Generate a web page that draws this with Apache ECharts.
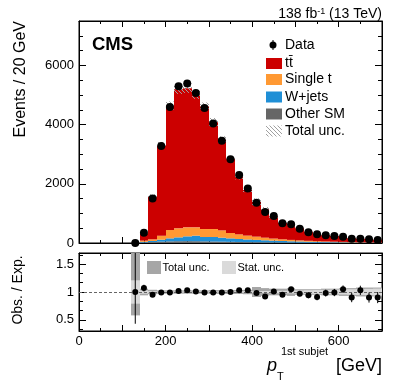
<!DOCTYPE html>
<html>
<head>
<meta charset="utf-8">
<script src="https://cdn.jsdelivr.net/npm/echarts@6/dist/echarts.min.js"></script>
<style>
html, body { margin: 0; padding: 0; background: #fff; }
#chart { width: 407px; height: 383px; }
</style>
</head>
<body>
<div id="chart"></div>
<script>
// 20 GeV bins, lower edges
const binLo = [120, 140, 160, 180, 200, 220, 240, 260, 280, 300, 320, 340, 360, 380, 400,
  420, 440, 460, 480, 500, 520, 540, 560, 580, 600, 620, 640, 660, 680];
const binW = 20;

const dataCounts = [0, 347, 1507, 3281, 4597, 5296, 5386, 5070, 4564, 4040, 3451, 2833, 2294, 1844, 1360,
  1046, 911, 664, 630, 483, 360, 292, 258, 236, 214, 146, 146, 124, 101];
const ttbar = [2, 244, 1461, 3068, 4205, 4697, 4701, 4492, 4138, 3609, 3059, 2496, 1935, 1540, 1173,
  957, 752, 574, 495, 410, 309, 259, 211, 194, 167, 131, 116, 116, 93];
const singleTop = [1, 40, 58, 134, 281, 304, 303, 281, 270, 270, 247, 180, 157, 130, 110,
  88, 70, 57, 47, 38, 32, 26, 21, 17, 14, 12, 10, 8, 7];
const wJets = [1, 25, 37, 67, 102, 131, 163, 187, 147, 152, 135, 117, 100, 90, 79,
  70, 61, 52, 44, 38, 32, 27, 23, 20, 17, 14, 12, 10, 9];
const otherSM = [1, 15, 30, 45, 55, 60, 62, 60, 55, 50, 45, 40, 35, 30, 26,
  22, 19, 16, 14, 12, 10, 9, 8, 7, 6, 5, 4, 4, 3];

// ratio panel
const ratio = [1.0, 1.07, 0.95, 0.99, 0.99, 1.02, 1.03, 1.01, 0.99, 0.99, 0.99, 1.0, 1.03, 1.03, 0.98,
  0.92, 1.01, 0.95, 1.05, 0.97, 0.94, 0.91, 0.98, 0.99, 1.05, 0.90, 1.03, 0.90, 0.90];
const ratioErrLo = [0.57, 0.06, 0.03, 0.02, 0.015, 0.014, 0.014, 0.014, 0.015, 0.016, 0.017, 0.019, 0.021, 0.023, 0.027,
  0.031, 0.033, 0.039, 0.04, 0.045, 0.053, 0.059, 0.062, 0.065, 0.068, 0.083, 0.083, 0.09, 0.1];
const ratioErrHi = [0.8, 0.06, 0.03, 0.02, 0.015, 0.014, 0.014, 0.014, 0.015, 0.016, 0.017, 0.019, 0.021, 0.023, 0.027,
  0.031, 0.033, 0.039, 0.04, 0.045, 0.053, 0.059, 0.062, 0.065, 0.068, 0.083, 0.083, 0.09, 0.1];
const totUncLo = [0.42, 0.06, 0.04, 0.03, 0.03, 0.03, 0.03, 0.03, 0.03, 0.035, 0.035, 0.035, 0.035, 0.04, 0.09,
  0.07, 0.06, 0.06, 0.07, 0.05, 0.05, 0.05, 0.06, 0.06, 0.07, 0.07, 0.08, 0.08, 0.08];
const totUncHi = [0.9, 0.06, 0.04, 0.03, 0.03, 0.03, 0.03, 0.03, 0.03, 0.035, 0.035, 0.035, 0.035, 0.04, 0.09,
  0.07, 0.06, 0.06, 0.07, 0.05, 0.05, 0.05, 0.06, 0.06, 0.07, 0.07, 0.08, 0.08, 0.08];
const statUnc = [0.21, 0.03, 0.015, 0.01, 0.008, 0.008, 0.008, 0.008, 0.008, 0.009, 0.01, 0.011, 0.012, 0.014, 0.016,
  0.018, 0.02, 0.023, 0.025, 0.028, 0.032, 0.035, 0.039, 0.042, 0.045, 0.05, 0.053, 0.057, 0.062];

const yMajor = [0, 2000, 4000, 6000];
const yMinor = [500, 1000, 1500, 2500, 3000, 3500, 4500, 5000, 5500, 6500, 7000];
const rMajor = [0.5, 1, 1.5];
const rMinor = [0.3333, 0.6667, 0.8333, 1.1667, 1.3333, 1.6667];
const xLabels = [0, 200, 400, 600];

const FONT = 'Liberation Sans';
const colors = { tt: '#cc0000', st: '#ff9933', wj: '#1f8fd6', other: '#666666' };

// hatch pattern for total uncertainty
const hatch = document.createElement('canvas');
hatch.width = 4; hatch.height = 4;
(function () {
  const c = hatch.getContext('2d');
  c.strokeStyle = '#a0a0a0';
  c.lineWidth = 1;
  c.beginPath();
  c.moveTo(0, 0); c.lineTo(4, 4);
  c.moveTo(-1, 3); c.lineTo(1, 5);
  c.moveTo(3, -1); c.lineTo(5, 1);
  c.stroke();
})();
const hatchFill = { image: hatch, repeat: 'repeat' };

const total = binLo.map((_, i) => ttbar[i] + singleTop[i] + wJets[i] + otherSM[i]);

function rectRender(fill) {
  return function (params, api) {
    const a = api.coord([api.value(0), api.value(3)]);
    const b = api.coord([api.value(1), api.value(2)]);
    const x0 = Math.round(a[0]), x1 = Math.round(b[0]);
    const cs = params.coordSys;
    const shape = echarts.graphic.clipRectByRect(
      { x: x0, y: a[1], width: x1 - x0, height: b[1] - a[1] },
      { x: cs.x, y: cs.y, width: cs.width, height: cs.height });
    return shape && { type: 'rect', shape: shape, style: { fill: fill } };
  };
}

// stacked components, bottom to top
const comps = [
  { name: 'Other SM', vals: otherSM, color: colors.other },
  { name: 'W+jets', vals: wJets, color: colors.wj },
  { name: 'Single t', vals: singleTop, color: colors.st },
  { name: 'tt', vals: ttbar, color: colors.tt }
];
const base = binLo.map(() => 0);
const stackSeries = comps.map(c => {
  const d = binLo.map((lo, i) => {
    const item = [lo, lo + binW, base[i], base[i] + c.vals[i]];
    base[i] += c.vals[i];
    return item;
  });
  return {
    name: c.name, type: 'custom', xAxisIndex: 0, yAxisIndex: 0,
    renderItem: rectRender(c.color), data: d, silent: true, z: 2
  };
});

function axisX(grid, pos, labels) {
  return {
    gridIndex: grid, type: 'value', min: 0, max: 700, interval: 100, position: pos,
    axisLine: { show: true, onZero: false, lineStyle: { color: '#000', width: 1 } },
    axisTick: { show: true, inside: true, length: 6, lineStyle: { color: '#000' } },
    minorTick: { show: true, splitNumber: 2, length: 3, lineStyle: { color: '#000' } },
    axisLabel: labels ? { show: true, customValues: xLabels, fontSize: 13, color: '#000', margin: 4, fontFamily: FONT,
      formatter: v => String(v) }
      : { show: false },
    splitLine: { show: false }
  };
}
function axisY(grid, pos, min, max, ticks, len, labels, line) {
  return {
    gridIndex: grid, type: 'value', min: min, max: max, position: pos,
    axisLine: { show: line, onZero: false, lineStyle: { color: '#000', width: 1 } },
    axisTick: { show: true, inside: true, length: len, customValues: ticks, lineStyle: { color: '#000' } },
    axisLabel: labels ? { show: true, customValues: labels, fontSize: 13, color: '#000', margin: 5, fontFamily: FONT,
      formatter: v => String(v) }
      : { show: false },
    splitLine: { show: false }
  };
}

const centers = binLo.map(lo => lo + binW / 2);

const option = {
  animation: false,
  textStyle: { fontFamily: FONT },
  grid: [
    { left: 79, top: 21, width: 303, height: 222, show: true, borderColor: '#000', borderWidth: 1 },
    { left: 79, top: 253, width: 303, height: 78, show: true, borderColor: '#000', borderWidth: 1 }
  ],
  xAxis: [axisX(0, 'bottom', false), axisX(0, 'top', false), axisX(1, 'bottom', true), axisX(1, 'top', false)],
  yAxis: [
    axisY(0, 'left', 0, 7500, yMinor, 4, null, true),
    axisY(0, 'left', 0, 7500, yMajor, 7, yMajor, false),
    axisY(0, 'right', 0, 7500, yMinor, 4, null, true),
    axisY(0, 'right', 0, 7500, yMajor, 7, null, false),
    axisY(1, 'left', 0.3, 1.7, rMinor, 4, null, true),
    axisY(1, 'left', 0.3, 1.7, rMajor, 7, rMajor, false),
    axisY(1, 'right', 0.3, 1.7, rMinor, 4, null, true),
    axisY(1, 'right', 0.3, 1.7, rMajor, 7, null, false)
  ],
  series: stackSeries.concat([
    {
      name: 'Total unc.', type: 'custom', xAxisIndex: 0, yAxisIndex: 0, silent: true, z: 3,
      renderItem: rectRender(hatchFill),
      data: binLo.map((lo, i) => [lo, lo + binW, total[i] * (1 - totUncLo[i]), total[i] * (1 + totUncHi[i])])
    },
    {
      name: 'Data', type: 'scatter', xAxisIndex: 0, yAxisIndex: 0, z: 5,
      symbol: 'circle', symbolSize: 8, itemStyle: { color: '#000', opacity: 1 },
      data: centers.map((c, i) => [c, dataCounts[i]])
    },
    {
      name: 'Total unc. ratio', type: 'custom', xAxisIndex: 2, yAxisIndex: 4, silent: true, z: 2,
      renderItem: rectRender('#a6a6a6'),
      data: binLo.map((lo, i) => [lo, lo + binW, 1 - totUncLo[i], 1 + totUncHi[i]])
    },
    {
      name: 'Stat. unc.', type: 'custom', xAxisIndex: 2, yAxisIndex: 4, silent: true, z: 3,
      renderItem: rectRender('#dadada'),
      data: binLo.map((lo, i) => [lo, lo + binW, 1 - statUnc[i], 1 + statUnc[i]])
    },
    {
      name: 'ratio err', type: 'custom', xAxisIndex: 2, yAxisIndex: 4, silent: true, z: 5,
      renderItem: function (params, api) {
        const cs = params.coordSys;
        const p = echarts.graphic.clipPointsByRect(
          [api.coord([api.value(0), api.value(1)]), api.coord([api.value(0), api.value(2)])],
          { x: cs.x, y: cs.y, width: cs.width, height: cs.height });
        return { type: 'line', shape: { x1: p[0][0], y1: p[0][1], x2: p[1][0], y2: p[1][1] },
          style: { stroke: '#000', lineWidth: 1 } };
      },
      data: centers.map((c, i) => [c, ratio[i] - ratioErrLo[i], ratio[i] + ratioErrHi[i]])
    },
    {
      name: 'Obs/Exp', type: 'scatter', xAxisIndex: 2, yAxisIndex: 4, z: 6,
      symbol: 'circle', symbolSize: 6, itemStyle: { color: '#000', opacity: 1 },
      data: centers.map((c, i) => [c, ratio[i]]),
      markLine: {
        silent: true, symbol: 'none', label: { show: false }, z: 4,
        lineStyle: { color: '#666', type: [3, 2], width: 1 },
        data: [{ yAxis: 1 }]
      }
    }
  ]),
  graphic: [
    { type: 'text', x: 92, y: 45, style: { text: 'CMS', font: 'bold 18.5px ' + FONT, fill: '#000', verticalAlign: 'middle' } },
    {
      type: 'text', x: 382, y: 3,
      style: {
        text: '{a|138 fb}{s|-1}{a| (13 TeV)}', align: 'right', verticalAlign: 'top',
        rich: {
          a: { fontSize: 14, lineHeight: 18, verticalAlign: 'bottom', fontFamily: FONT, fill: '#000' },
          s: { fontSize: 9, lineHeight: 18, verticalAlign: 'middle', fontFamily: FONT, fill: '#000' }
        }
      }
    },
    // legend
    { type: 'line', shape: { x1: 273, y1: 40, x2: 273, y2: 50 }, style: { stroke: '#000', lineWidth: 1 } },
    { type: 'circle', shape: { cx: 273, cy: 45, r: 3.5 }, style: { fill: '#000' } },
    { type: 'text', x: 285, y: 45, style: { text: 'Data', font: '14px ' + FONT, fill: '#000', verticalAlign: 'middle' } },
    { type: 'rect', shape: { x: 266, y: 58, width: 16, height: 11 }, style: { fill: colors.tt } },
    { type: 'text', x: 285, y: 63, style: { text: 't\u0074\u0304', font: '14px ' + FONT, fill: '#000', verticalAlign: 'middle' } },
    { type: 'rect', shape: { x: 266, y: 74, width: 16, height: 11 }, style: { fill: colors.st } },
    { type: 'text', x: 285, y: 79.5, style: { text: 'Single t', font: '14px ' + FONT, fill: '#000', verticalAlign: 'middle' } },
    { type: 'rect', shape: { x: 266, y: 91.5, width: 16, height: 11 }, style: { fill: colors.wj } },
    { type: 'text', x: 285, y: 97, style: { text: 'W+jets', font: '14px ' + FONT, fill: '#000', verticalAlign: 'middle' } },
    { type: 'rect', shape: { x: 266, y: 108.5, width: 16, height: 11 }, style: { fill: colors.other } },
    { type: 'text', x: 285, y: 114, style: { text: 'Other SM', font: '14px ' + FONT, fill: '#000', verticalAlign: 'middle' } },
    { type: 'rect', shape: { x: 266, y: 125.5, width: 16, height: 11 }, style: { fill: hatchFill } },
    { type: 'text', x: 285, y: 131, style: { text: 'Total unc.', font: '14px ' + FONT, fill: '#000', verticalAlign: 'middle' } },
    // ratio legend
    { type: 'rect', shape: { x: 147, y: 261, width: 14, height: 13 }, style: { fill: '#a6a6a6' } },
    { type: 'text', x: 162.5, y: 267.5, style: { text: 'Total unc.', font: '11px ' + FONT, fill: '#000', verticalAlign: 'middle' } },
    { type: 'rect', shape: { x: 222, y: 261, width: 14, height: 13 }, style: { fill: '#dadada' } },
    { type: 'text', x: 237.5, y: 267.5, style: { text: 'Stat. unc.', font: '11px ' + FONT, fill: '#000', verticalAlign: 'middle' } },
    // axis titles
    { type: 'text', x: 21, y: 21, rotation: Math.PI / 2,
      style: { text: 'Events / 20 GeV', font: '16px ' + FONT, fill: '#000', align: 'right', verticalAlign: 'middle' } },
    { type: 'text', x: 18.5, y: 290, rotation: Math.PI / 2,
      style: { text: 'Obs. / Exp.', font: '14px ' + FONT, fill: '#000', align: 'center', verticalAlign: 'middle' } },
    { type: 'text', x: 267, y: 366, style: { text: 'p', font: 'italic 18px ' + FONT, fill: '#000', verticalAlign: 'middle' } },
    { type: 'text', x: 277, y: 377, style: { text: 'T', font: '11px ' + FONT, fill: '#000', verticalAlign: 'middle' } },
    { type: 'text', x: 281, y: 352, style: { text: '1st subjet', font: '11px ' + FONT, fill: '#000', verticalAlign: 'middle' } },
    { type: 'text', x: 382, y: 366, style: { text: '[GeV]', font: '18px ' + FONT, fill: '#000', align: 'right', verticalAlign: 'middle' } }
  ]
};

const chart = echarts.init(document.getElementById('chart'), null, { renderer: 'canvas' });
chart.setOption(option);
</script>
</body>
</html>
